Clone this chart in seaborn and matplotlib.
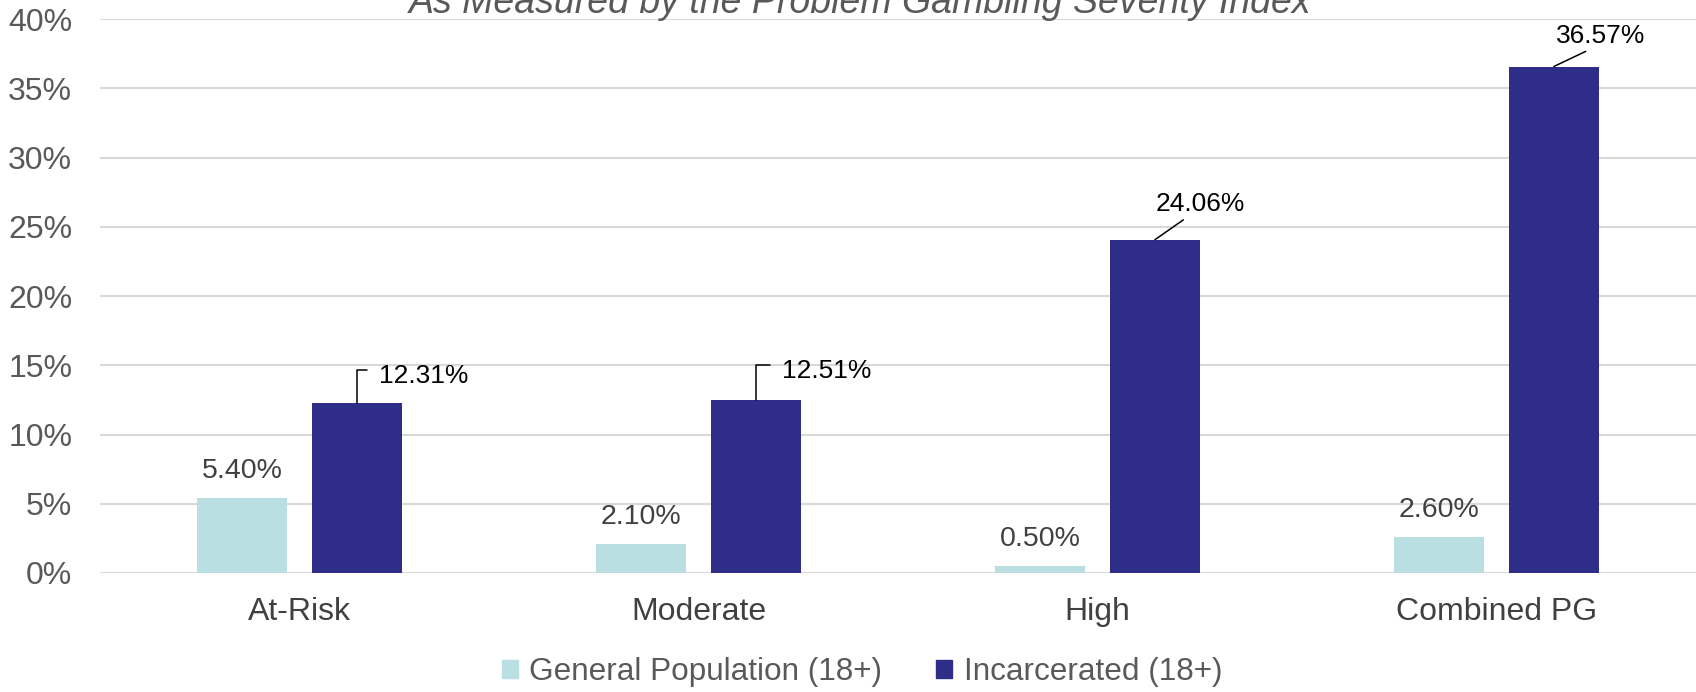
import matplotlib
matplotlib.use("Agg")
import matplotlib.pyplot as plt
import matplotlib.patches as mpatches
import pandas as pd
import seaborn as sns

# Dados (percentuais PGSI)
categorias = ["At-Risk", "Moderate", "High", "Combined PG"]
grupos = ["General Population (18+)", "Incarcerated (18+)"]
geral = [5.40, 2.10, 0.50, 2.60]
encarcerados = [12.31, 12.51, 24.06, 36.57]
yticks = [0, 5, 10, 15, 20, 25, 30, 35, 40]

COR_GERAL = "#BADFE3"
COR_ENC = "#2E2E88"
COR_TEXTO = "#595959"

df = pd.DataFrame({
    "categoria": categorias * 2,
    "grupo": [grupos[0]] * 4 + [grupos[1]] * 4,
    "valor": geral + encarcerados,
})

sns.set_style("white")
plt.rcParams["font.family"] = ["Liberation Sans", "DejaVu Sans"]

fig = plt.figure(figsize=(16.96, 6.92), dpi=100)
ax = fig.add_axes([100 / 1696, 1 - 573 / 692, 1 - 100 / 1696, (573 - 19) / 692])

sns.barplot(data=df, x="categoria", y="valor", hue="grupo", order=categorias,
            hue_order=grupos, palette=[COR_GERAL, COR_ENC], saturation=1,
            width=0.575, gap=0.217, linewidth=0, legend=False, ax=ax, errorbar=None)

ax.set_ylim(0, 40)
ax.set_xlim(-0.5, 3.5)
ax.set_yticks(yticks)
ax.set_yticklabels([f"{v}%" for v in yticks])
ax.yaxis.grid(True, color="#D9D9D9", lw=1.5)
ax.set_axisbelow(True)
for s in ax.spines.values():
    s.set_visible(False)
ax.tick_params(axis="y", length=0, pad=20, labelsize=23, labelcolor=COR_TEXTO)
ax.tick_params(axis="x", length=0, pad=17, labelsize=23, labelcolor="#404040")
ax.set_xlabel("")
ax.set_ylabel("")

# Rótulos da população geral
for barra, v in zip(ax.containers[0], geral):
    xc = barra.get_x() + barra.get_width() / 2
    ax.annotate(f"{v:.2f}%", xy=(xc, v), xytext=(0, 27), textcoords="offset pixels",
                ha="center", va="center", fontsize=20.5, color="#404040")

# Rótulos dos encarcerados com linhas de chamada
desloc = [(22, 27, "cotovelo", 0.0), (26, 29, "cotovelo", 0.0),
          (45, 36, "diag", 0.4), (47, 31, "diag", 0.45)]
for barra, v, (dx, dy, tipo, rx) in zip(ax.containers[1], encarcerados, desloc):
    xc = barra.get_x() + barra.get_width() / 2
    if tipo == "cotovelo":
        ax.annotate(f"{v:.2f}%", xy=(xc, v), xytext=(dx, dy), textcoords="offset pixels",
                    ha="left", va="center", fontsize=19, color="black",
                    arrowprops=dict(arrowstyle="-", color="black", lw=1.1,
                                    relpos=(0, 0.72), shrinkA=6, shrinkB=0,
                                    connectionstyle="angle,angleA=0,angleB=90,rad=0"))
    else:
        ax.annotate(f"{v:.2f}%", xy=(xc, v), xytext=(dx, dy), textcoords="offset pixels",
                    ha="center", va="center", fontsize=19, color="black",
                    arrowprops=dict(arrowstyle="-", color="black", lw=1.1,
                                    relpos=(rx, 0.05), shrinkA=1, shrinkB=0))

# Título (cortado no topo, como no original)
fig.text(860 / 1696, 1 - 13 / 692, "As Measured by the Problem Gambling Severity Index",
         ha="center", va="baseline", fontsize=27, style="italic", color=COR_TEXTO)

# Legenda
handles = [mpatches.Patch(color=COR_GERAL, label=grupos[0]),
           mpatches.Patch(color=COR_ENC, label=grupos[1])]
fig.legend(handles=handles, loc="center", bbox_to_anchor=(862 / 1696, 1 - 672 / 692),
           ncol=2, frameon=False, fontsize=22.7, handlelength=0.52, handleheight=0.52,
           handletextpad=0.36, columnspacing=1.7, labelcolor=COR_TEXTO)

fig.savefig("out.png", dpi=100)
